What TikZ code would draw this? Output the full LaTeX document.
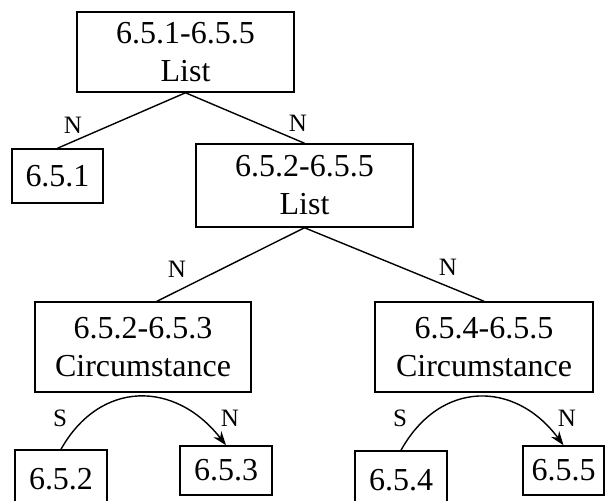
\documentclass[tikz,border=0pt]{standalone}
\usepackage{fontspec}
\setmainfont{Liberation Serif}
\usetikzlibrary{arrows.meta}
\begin{document}
\begin{tikzpicture}[x=1pt,y=-1pt,
  box/.style={draw,line width=1.5pt,inner sep=0pt,align=center,
    font=\fontsize{32}{38}\selectfont},
  lab/.style={inner sep=0pt,font=\fontsize{25}{25}\selectfont},
  edge/.style={line width=1.4pt},
  arr/.style={line width=1.4pt,-{Stealth[length=14pt,width=10pt]}}]
\useasboundingbox (0,0) rectangle (606,501);
% boxes
\node[box,minimum width=217pt,minimum height=80pt] (top) at (185.5,52) {6.5.1-6.5.5\\List};
\node[box,minimum width=91pt,minimum height=54pt] (n651) at (57.5,176) {6.5.1};
\node[box,minimum width=217pt,minimum height=83pt] (n6525) at (304.5,185.5) {6.5.2-6.5.5\\List};
\node[box,minimum width=216pt,minimum height=90pt] (n6523) at (143,347) {6.5.2-6.5.3\\Circumstance};
\node[box,minimum width=218pt,minimum height=90pt] (n6545) at (484,347) {6.5.4-6.5.5\\Circumstance};
\node[box,minimum width=92pt,minimum height=58pt] (n652) at (61,479) {6.5.2};
\node[box,minimum width=92pt,minimum height=49pt] (n653) at (226,470.5) {6.5.3};
\node[box,minimum width=92pt,minimum height=58pt] (n654) at (401,480) {6.5.4};
\node[box,minimum width=81pt,minimum height=49pt] (n655) at (563.5,470.5) {6.5.5};
% connectors
\draw[edge] (top.south) -- (n651.north);
\draw[edge] (top.south) -- (n6525.north);
\draw[edge] (n6525.south) -- (n6523.73);
\draw[edge] (n6525.south) -- (n6545.north);
\draw[arr] (n652.north) .. controls (100,380) and (175,380) .. (n653.north);
\draw[arr] (n654.north) .. controls (440,380) and (515,380) .. (n655.north);
% labels
\node[lab] (l1) at (73,125) {N};
\node[lab] (l2) at (298,123) {N};
\node[lab] (l3) at (177,269) {N};
\node[lab] (l4) at (448,267) {N};
\node[lab] (l5) at (60,418) {S};
\node[lab] (l6) at (230,418) {N};
\node[lab] (l7) at (400,418) {S};
\node[lab] (l8) at (567,418) {N};
\end{tikzpicture}
\end{document}
